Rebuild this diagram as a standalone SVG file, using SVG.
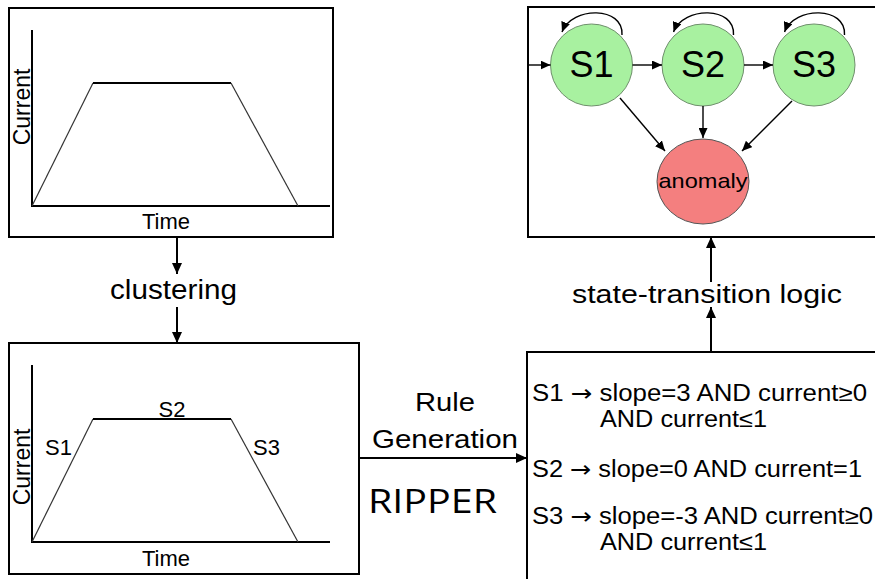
<svg xmlns="http://www.w3.org/2000/svg" width="875" height="579" viewBox="0 0 875 579">
<style>
  text { font-family: "Liberation Sans", Arial, sans-serif; fill: #000; }
  .box { fill: #fff; stroke: #000; stroke-width: 2; }
  .axis { fill: none; stroke: #000; stroke-width: 2; }
  .slope { fill: none; stroke: #333; stroke-width: 1.2; }
  .plateau { fill: none; stroke: #000; stroke-width: 2; }
  .conn { fill: none; stroke: #000; stroke-width: 2; }
  .sconn { fill: none; stroke: #000; stroke-width: 1.4; }
  .state { fill: #a8f1a0; stroke: #6f8f6c; stroke-width: 1; }
  .anom { fill: #f47f7f; stroke: #555; stroke-width: 1; }
  .lbl { font-size: 22px; }
  .rule { font-size: 23px; }
  .ar { font-family: "DejaVu Sans", sans-serif; }
</style>
<defs>
  <marker id="arr" markerUnits="userSpaceOnUse" markerWidth="12" markerHeight="10" refX="11" refY="5" orient="auto">
    <path d="M0,0 L11,5 L0,10 z" fill="#000"/>
  </marker>
  <marker id="arrs" markerUnits="userSpaceOnUse" markerWidth="11" markerHeight="9" refX="10" refY="4.5" orient="auto">
    <path d="M0,0 L10,4.5 L0,9 z" fill="#000"/>
  </marker>
</defs>

<!-- Top-left chart -->
<g id="chart-raw">
  <rect class="box" x="9" y="8" width="324" height="229"/>
  <path class="axis" d="M32,30 L32,206 L330,206"/>
  <path class="slope" d="M32,206 L93,83"/>
  <path class="plateau" d="M93,83 L231,83"/>
  <path class="slope" d="M231,83 L298,206"/>
  <text font-size="23" transform="translate(30,107) rotate(-90)" text-anchor="middle">Current</text>
  <text class="lbl" x="166" y="229" text-anchor="middle">Time</text>
</g>

<!-- Bottom-left chart -->
<g id="chart-clustered">
  <rect class="box" x="9" y="343" width="350" height="231"/>
  <path class="axis" d="M32,365 L32,542 L330,542"/>
  <path class="slope" d="M32,542 L93,419"/>
  <path class="plateau" d="M93,419 L231,419"/>
  <path class="slope" d="M231,419 L298,542"/>
  <text font-size="23" transform="translate(30,467) rotate(-90)" text-anchor="middle">Current</text>
  <text class="lbl" x="166" y="566" text-anchor="middle">Time</text>
  <text class="lbl" x="45" y="455">S1</text>
  <text class="lbl" x="172" y="417" text-anchor="middle">S2</text>
  <text class="lbl" x="253" y="455">S3</text>
</g>

<!-- State machine box -->
<g id="state-machine">
  <rect class="box" x="528" y="7" width="360" height="230"/>
  <g id="s1">
    <circle class="state" cx="591.5" cy="65" r="41"/>
    <text x="591.5" y="77" font-size="36" text-anchor="middle">S1</text>
  </g>
  <g id="s2">
    <circle class="state" cx="703" cy="65" r="41"/>
    <text x="703" y="77" font-size="36" text-anchor="middle">S2</text>
  </g>
  <g id="s3">
    <circle class="state" cx="814" cy="65" r="41"/>
    <text x="814" y="77" font-size="36" text-anchor="middle">S3</text>
  </g>
  <g id="anomaly">
    <ellipse class="anom" cx="703" cy="181.5" rx="46" ry="42.5"/>
    <text x="703" y="188" font-size="21" text-anchor="middle" textLength="89" lengthAdjust="spacingAndGlyphs">anomaly</text>
  </g>
</g>

<!-- Rules box -->
<g id="rules">
  <rect class="box" x="527" y="352" width="360" height="240"/>
  <text class="rule" x="532" y="401" textLength="335" lengthAdjust="spacingAndGlyphs">S1 <tspan class="ar">→</tspan> slope=3 AND current≥0</text>
  <text class="rule" x="600" y="427" textLength="167" lengthAdjust="spacingAndGlyphs">AND current≤1</text>
  <text class="rule" x="532" y="477" textLength="330" lengthAdjust="spacingAndGlyphs">S2 <tspan class="ar">→</tspan> slope=0 AND current=1</text>
  <text class="rule" x="532" y="524" textLength="341" lengthAdjust="spacingAndGlyphs">S3 <tspan class="ar">→</tspan> slope=-3 AND current≥0</text>
  <text class="rule" x="600" y="550" textLength="167" lengthAdjust="spacingAndGlyphs">AND current≤1</text>
</g>

<!-- Labels -->
<g id="labels">
  <text x="173.5" y="299" font-size="27" text-anchor="middle" textLength="127" lengthAdjust="spacingAndGlyphs">clustering</text>
  <text x="445" y="411" font-size="26" text-anchor="middle" textLength="60" lengthAdjust="spacingAndGlyphs">Rule</text>
  <text x="445" y="448" font-size="26" text-anchor="middle" textLength="146" lengthAdjust="spacingAndGlyphs">Generation</text>
  <text x="432.5" y="513" font-size="33" text-anchor="middle" textLength="129" lengthAdjust="spacingAndGlyphs" style="font-family:'Open Sans','Liberation Sans',sans-serif">RIPPER</text>
  <text x="707" y="303" font-size="26" text-anchor="middle" textLength="270" lengthAdjust="spacingAndGlyphs">state-transition logic</text>
</g>

<!-- Connectors -->
<g id="connectors">
  <line class="conn" x1="177" y1="237" x2="177" y2="274" marker-end="url(#arr)"/>
  <line class="conn" x1="177" y1="307" x2="177" y2="343" marker-end="url(#arr)"/>
  <line class="conn" x1="359" y1="458" x2="527" y2="458" marker-end="url(#arr)"/>
  <line class="conn" x1="711" y1="352" x2="711" y2="307" marker-end="url(#arr)"/>
  <line class="conn" x1="711" y1="282" x2="711" y2="237" marker-end="url(#arr)"/>

  <line class="sconn" x1="528" y1="65" x2="550.5" y2="65" marker-end="url(#arrs)"/>
  <line class="sconn" x1="632.5" y1="65" x2="662" y2="65" marker-end="url(#arrs)"/>
  <line class="sconn" x1="744" y1="65" x2="773" y2="65" marker-end="url(#arrs)"/>
  <line class="sconn" x1="620" y1="98" x2="665" y2="151" marker-end="url(#arrs)"/>
  <line class="sconn" x1="703" y1="106" x2="703" y2="138" marker-end="url(#arrs)"/>
  <line class="sconn" x1="792" y1="101" x2="742" y2="151" marker-end="url(#arrs)"/>

  <path class="sconn" d="M622,35 C624,6 572,6 562,32" marker-end="url(#arrs)"/>
  <path class="sconn" d="M733.5,35 C735.5,6 683.5,6 673.5,32" marker-end="url(#arrs)"/>
  <path class="sconn" d="M844.5,35 C846.5,6 794.5,6 784.5,32" marker-end="url(#arrs)"/>
</g>
</svg>
